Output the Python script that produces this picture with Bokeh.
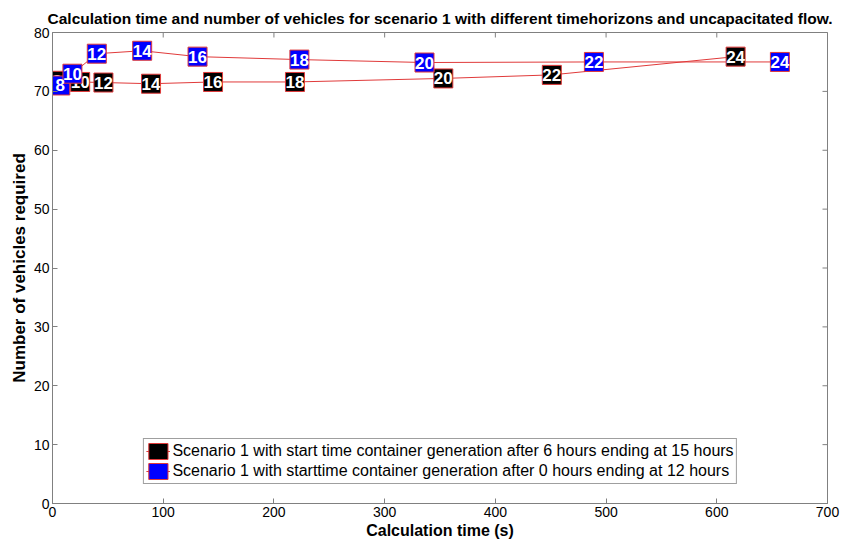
import math
from bokeh.plotting import figure
from bokeh.models import (ColumnDataSource, Legend, LegendItem, FixedTicker, Range1d)
from bokeh.core.properties import value
from bokeh.embed import file_html
from bokeh.resources import INLINE

# ---- data ----
horizons = ["8", "10", "12", "14", "16", "18", "20", "22", "24"]
s615_time = [4, 25, 46, 89, 145, 219, 353, 451, 617]
s615_vehicles = [71.8, 71.6, 71.5, 71.3, 71.6, 71.6, 72.2, 72.8, 75.9]
s012_time = [7, 18, 40, 81, 131, 223, 336, 489, 657]
s012_vehicles = [71.0, 73.0, 76.4, 76.9, 75.9, 75.4, 74.9, 75.0, 75.0]
x_ticks = [0, 100, 200, 300, 400, 500, 600, 700]
y_ticks = [0, 10, 20, 30, 40, 50, 60, 70, 80]
label_615 = "Scenario 1 with start time container generation after 6 hours ending at 15 hours"
label_012 = "Scenario 1 with starttime container generation after 0 hours ending at 12 hours"

FONT = "Liberation Sans"
LINE_RED = "#e03a3a"
AXIS_GREY = "#808080"
X0, X1 = x_ticks[0], x_ticks[-1]
Y0, Y1 = y_ticks[0], y_ticks[-1]

p = figure(width=847, height=544, output_backend="svg", toolbar_location=None,
           x_range=Range1d(X0, X1), y_range=Range1d(Y0, Y1),
           frame_width=775, frame_height=471,
           min_border_left=52, min_border_right=20, min_border_top=32,
           min_border_bottom=41,
           title="Calculation time and number of vehicles for scenario 1 with different timehorizons and uncapacitated flow.")
p.title.align = "center"
p.title.text_font = FONT
p.title.text_font_size = "15.5px"
p.title.text_font_style = "bold"
p.title.text_color = "black"
p.title.text_line_height = 0.7
p.title.standoff = 12
p.xgrid.visible = False
p.ygrid.visible = False
p.outline_line_color = AXIS_GREY
p.background_fill_color = "white"
p.border_fill_color = "white"

for ax in p.xaxis:
    ax.ticker = FixedTicker(ticks=x_ticks)
    ax.axis_label = "Calculation time (s)"
    ax.axis_label_text_font_size = "16px"
for ax in p.yaxis:
    ax.ticker = FixedTicker(ticks=y_ticks)
    ax.axis_label = "Number of vehicles required"
    ax.axis_label_text_font_size = "17px"

for ax in list(p.xaxis) + list(p.yaxis):
    ax.axis_line_color = AXIS_GREY
    ax.major_tick_line_color = AXIS_GREY
    ax.major_tick_in = 5
    ax.major_tick_out = 0
    ax.minor_tick_line_color = None
    ax.major_label_text_font = FONT
    ax.major_label_text_font_size = "14px"
    ax.major_label_text_color = "black"
    ax.axis_label_text_font = FONT
    ax.axis_label_text_font_style = "bold"
    ax.axis_label_text_color = "black"
    ax.major_label_standoff = 3
    ax.axis_label_standoff = 2

# mirrored inward ticks on the top and right edges of the box
p.scatter(x=x_ticks, y=[Y1] * len(x_ticks), marker="dash", size=10, angle=math.pi / 2,
          line_color=AXIS_GREY, line_width=1)
p.scatter(x=[X1] * len(y_ticks), y=y_ticks, marker="dash", size=10,
          line_color=AXIS_GREY, line_width=1)

src615 = ColumnDataSource(dict(x=s615_time, y=s615_vehicles, t=horizons))
src012 = ColumnDataSource(dict(x=s012_time, y=s012_vehicles, t=horizons))

l615 = p.line("x", "y", source=src615, line_color=LINE_RED, line_width=1)
l012 = p.line("x", "y", source=src012, line_color=LINE_RED, line_width=1)

# zero-size rects: invisible on the plot, used as the legend's square swatches
sw615 = p.rect("x", "y", width=0, height=0, source=src615,
               fill_color="black", line_color=LINE_RED)
sw012 = p.rect("x", "y", width=0, height=0, source=src012,
               fill_color="blue", line_color=LINE_RED)

for src, fill in ((src615, "black"), (src012, "blue")):
    p.scatter("x", "y", source=src, marker="square", size=19,
              fill_color=fill, line_color=LINE_RED, line_width=1)
    p.text("x", "y", text="t", source=src, text_color="white",
           text_font=value(FONT), text_font_size="17px", text_font_style="bold",
           text_align="center", text_baseline="middle")

legend = Legend(items=[LegendItem(label=label_615, renderers=[l615, sw615], index=0),
                       LegendItem(label=label_012, renderers=[l012, sw012], index=0)],
                location="bottom_center")
legend.label_text_font = FONT
legend.label_text_font_size = "16px"
legend.label_text_color = "black"
legend.label_height = 20
legend.glyph_height = 20
legend.glyph_width = 24
legend.spacing = 0
legend.padding = 2
legend.margin = 19
legend.label_standoff = 3
legend.border_line_color = "#404040"
legend.border_line_width = 1
legend.background_fill_color = "white"
p.add_layout(legend)

open("out.html", "w").write(file_html(p, INLINE))
